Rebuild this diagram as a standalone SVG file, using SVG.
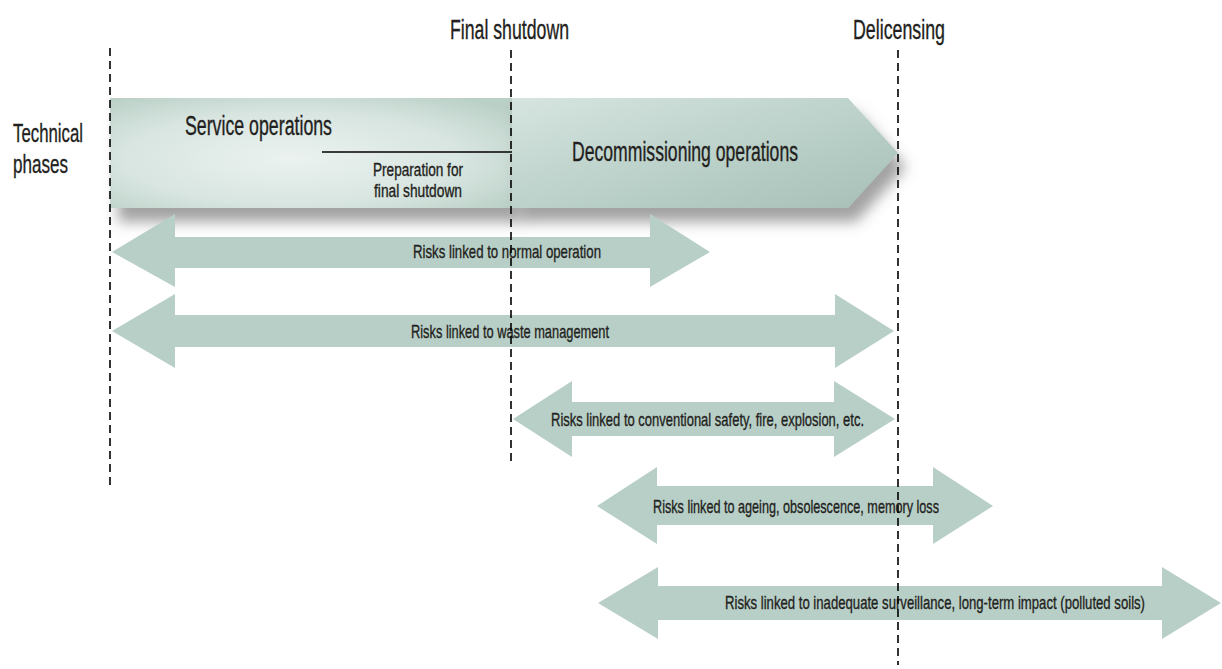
<svg xmlns="http://www.w3.org/2000/svg" width="1222" height="669" viewBox="0 0 1222 669">
<defs>
<style>
.t{font-family:"Liberation Sans",Arial,sans-serif;fill:#231f20;stroke:#231f20;stroke-width:0.35}
.big{font-size:27px}
.lab{font-size:26px}
.sm{font-size:17.5px}
.rk{font-size:19px}
.risk{fill:#b8cfc7}
.dash{stroke:#000;stroke-width:1.6;stroke-dasharray:8 5;fill:none}
</style>
<radialGradient id="gs" cx="0.45" cy="0.55" r="0.7">
<stop offset="0" stop-color="#ebf2ef"/>
<stop offset="0.6" stop-color="#d8e5e0"/>
<stop offset="1" stop-color="#bad0c7"/>
</radialGradient>
<linearGradient id="gd" x1="0" y1="0" x2="1" y2="1">
<stop offset="0" stop-color="#d6e4df"/>
<stop offset="0.5" stop-color="#bcd2ca"/>
<stop offset="1" stop-color="#a6bfb6"/>
</linearGradient>
<filter id="sh" x="-10%" y="-20%" width="130%" height="160%">
<feDropShadow dx="8" dy="14" stdDeviation="7" flood-color="#555" flood-opacity="0.55"/>
</filter>
</defs>

<g id="phase-service" filter="url(#sh)">
<rect x="110" y="98" width="403" height="110" fill="url(#gs)"/>
</g>
<g id="phase-decommissioning" filter="url(#sh)">
<polygon points="512,98 848,98 898,153 848,208 512,208" fill="url(#gd)"/>
</g>
<g id="phase-texts">
<text class="t big" x="185" y="135" textLength="147" lengthAdjust="spacingAndGlyphs">Service operations</text>
<line x1="322" y1="152" x2="512" y2="152" stroke="#000" stroke-width="1.5"/>
<text class="t sm" x="373" y="176" textLength="90" lengthAdjust="spacingAndGlyphs">Preparation for</text>
<text class="t sm" x="374" y="197" textLength="88" lengthAdjust="spacingAndGlyphs">final shutdown</text>
<text class="t big" x="572" y="161" textLength="226" lengthAdjust="spacingAndGlyphs">Decommissioning operations</text>
</g>

<g id="label-technical">
<text class="t lab" x="13" y="142" textLength="70" lengthAdjust="spacingAndGlyphs">Technical</text>
<text class="t lab" x="13" y="173" textLength="55" lengthAdjust="spacingAndGlyphs">phases</text>
</g>

<g id="risk-normal">
<polygon class="risk" points="112,252 175,214 175,237 650,237 650,214 710,252 650,287 650,268 175,268 175,287"/>
<text class="t rk" x="413" y="258" textLength="188" lengthAdjust="spacingAndGlyphs">Risks linked to normal operation</text>
</g>
<g id="risk-waste">
<polygon class="risk" points="112,331 175,294 175,315 835,315 835,294 894,331 835,368 835,347 175,347 175,368"/>
<text class="t rk" x="411" y="338" textLength="198" lengthAdjust="spacingAndGlyphs">Risks linked to waste management</text>
</g>
<g id="risk-conventional">
<polygon class="risk" points="513,419 572,381 572,402 834,402 834,381 895,419 834,457 834,436 572,436 572,457"/>
<text class="t rk" x="551" y="426" textLength="313" lengthAdjust="spacingAndGlyphs">Risks linked to conventional safety, fire, explosion, etc.</text>
</g>
<g id="risk-ageing">
<polygon class="risk" points="597,506 657,467 657,486 933,486 933,467 993,506 933,544 933,525 657,525 657,544"/>
<text class="t rk" x="653" y="513" textLength="286" lengthAdjust="spacingAndGlyphs">Risks linked to ageing, obsolescence, memory loss</text>
</g>
<g id="risk-surveillance">
<polygon class="risk" points="598,603 658,567 658,586 1162,586 1162,567 1221,603 1162,639 1162,620 658,620 658,639"/>
<text class="t rk" x="725" y="609" textLength="420" lengthAdjust="spacingAndGlyphs">Risks linked to inadequate surveillance, long-term impact (polluted soils)</text>
</g>

<g id="milestones">
<text class="t big" x="450" y="39" textLength="119" lengthAdjust="spacingAndGlyphs">Final shutdown</text>
<text class="t big" x="853" y="39" textLength="92" lengthAdjust="spacingAndGlyphs">Delicensing</text>
</g>

<g id="connectors">
<line class="dash" x1="110" y1="48" x2="110" y2="485"/>
<line class="dash" x1="511" y1="50" x2="511" y2="465"/>
<line class="dash" x1="898" y1="50" x2="898" y2="665"/>
</g>
</svg>
